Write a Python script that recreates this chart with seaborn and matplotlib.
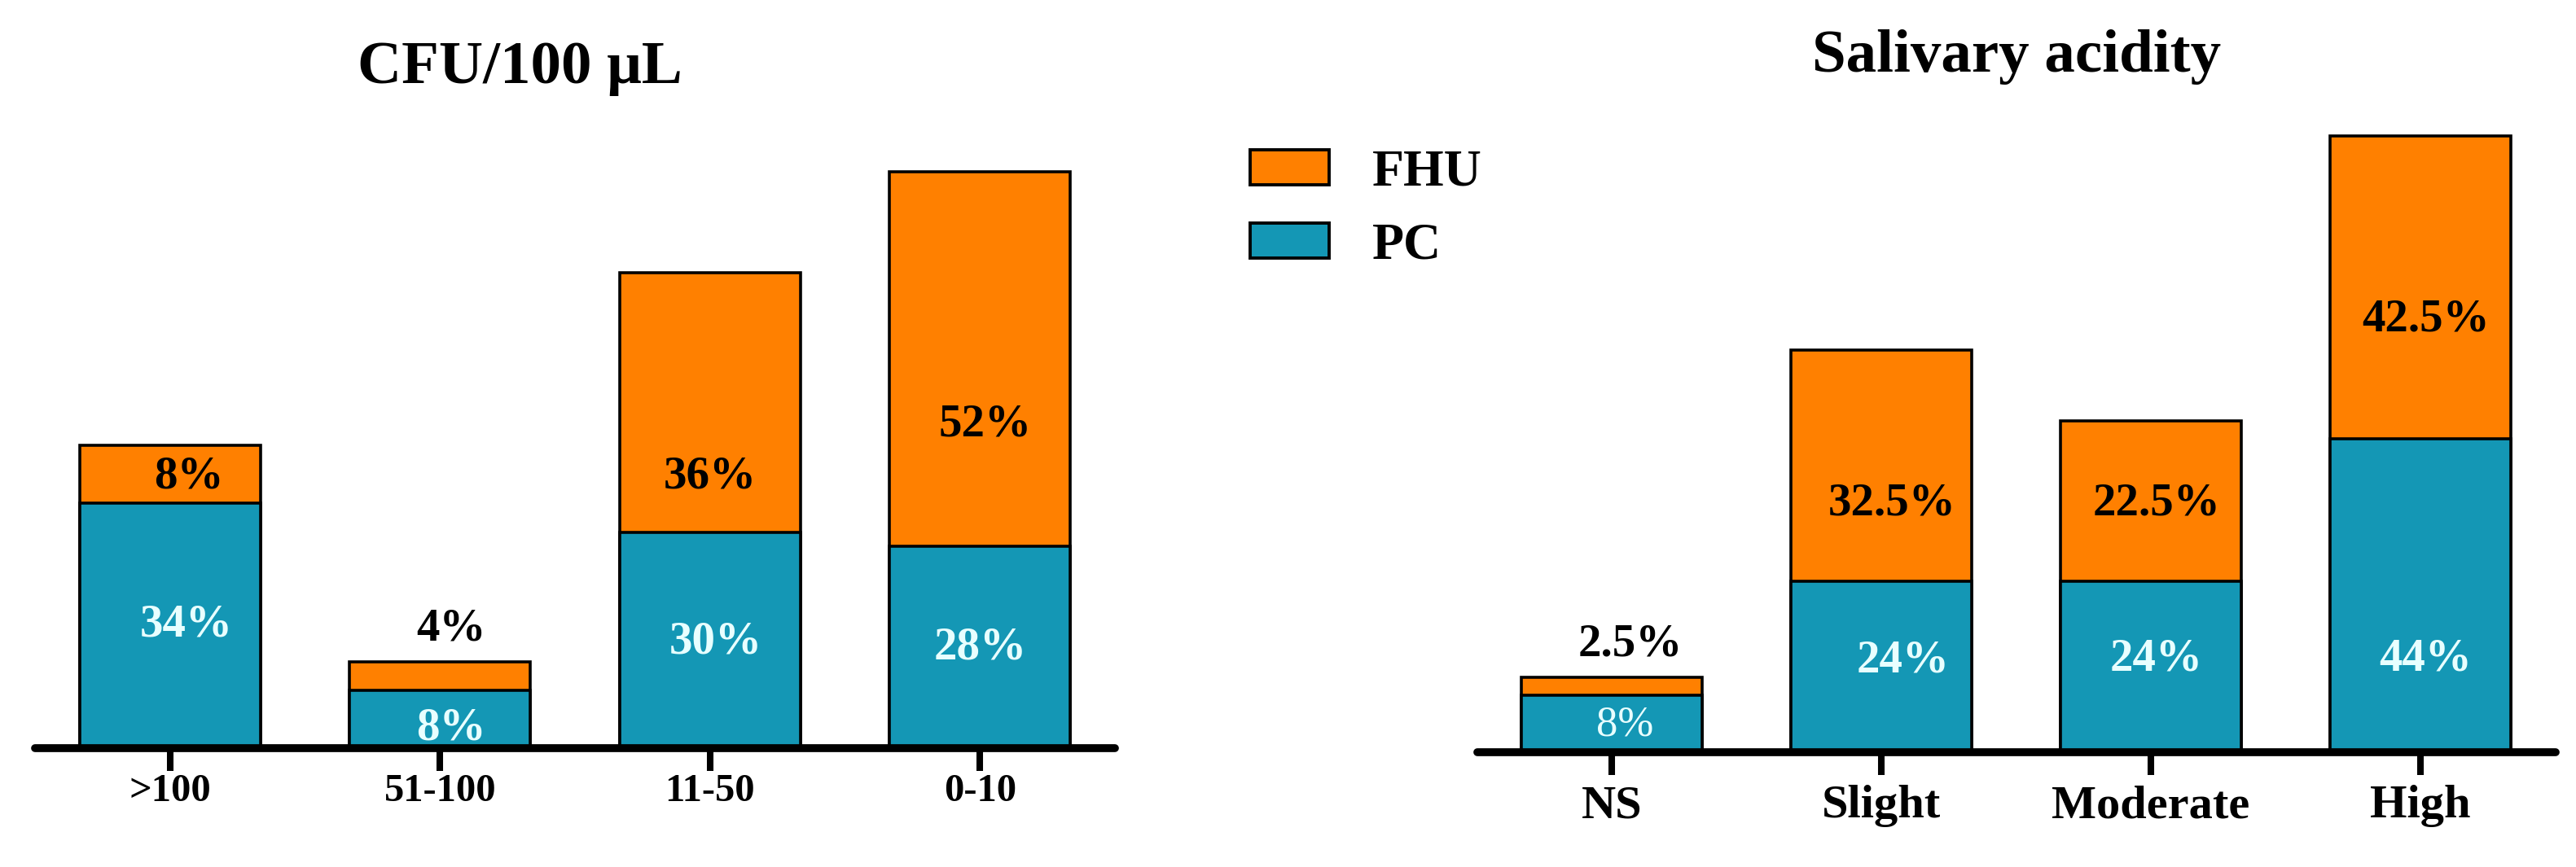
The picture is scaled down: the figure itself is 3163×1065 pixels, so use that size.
import matplotlib
matplotlib.use("Agg")
import matplotlib.pyplot as plt
import seaborn as sns
import pandas as pd
from matplotlib.patches import Patch

# ---------------- data ----------------
cfu_categories = [">100", "51-100", "11-50", "0-10"]
cfu_pc = [34, 8, 30, 28]
cfu_fhu = [8, 4, 36, 52]
cfu_pc_labels = ["34%", "8%", "30%", "28%"]
cfu_fhu_labels = ["8%", "4%", "36%", "52%"]

acid_categories = ["NS", "Slight", "Moderate", "High"]
acid_pc = [8, 24, 24, 44]
acid_fhu = [2.5, 32.5, 22.5, 42.5]
acid_pc_labels = ["8%", "24%", "24%", "44%"]
acid_fhu_labels = ["2.5%", "32.5%", "22.5%", "42.5%"]

series_names = ["FHU", "PC"]
panel_titles = ["CFU/100 \u03bcL", "Salivary acidity"]

# ---------------- style / layout ----------------
ORANGE = "#FF8000"
TEAL = "#1497B5"
LIGHT = "#E8FFFF"
FONT = "Liberation Serif"

# (x offset in category units, y in data units) for each value label
cfu_pc_label_pos = [(0.06, 17.1), (0.04, 2.8), (0.02, 14.7), (0.0, 14.0)]
cfu_fhu_label_pos = [(0.07, 37.7), (0.04, 16.6), (0.0, 37.7), (0.02, 44.9)]
acid_pc_label_pos = [(0.05, 3.8), (0.08, 12.8), (0.02, 13.1), (0.02, 13.1)]
acid_fhu_label_pos = [(0.07, 15.1), (0.04, 34.9), (0.02, 34.9), (0.02, 60.7)]

sns.set_theme(style="white")
plt.rcParams["font.family"] = [FONT, "DejaVu Serif"]
plt.rcParams["font.weight"] = "bold"
plt.rcParams["text.color"] = "black"
plt.rcParams["axes.labelcolor"] = "black"
plt.rcParams["xtick.color"] = "black"
plt.rcParams["xtick.labelcolor"] = "black"
plt.rcParams["legend.labelcolor"] = "black"

W, H = 3163, 1065
fig = plt.figure(figsize=(W / 100, H / 100), dpi=100)

ax1 = fig.add_axes([43 / W, (H - 919) / H, 1326 / W, 796.5 / H])
ax2 = fig.add_axes([1813.5 / W, (H - 924) / H, 1324 / W, 787.5 / H])


def draw_panel(ax, cats, pc, fhu, pc_labels, fhu_labels, pc_pos, fhu_pos,
               tick_size, tick_pad, pc_weights):
    df = pd.DataFrame({"cat": cats, "PC": pc, "FHU": fhu})
    df["total"] = df["PC"] + df["FHU"]
    sns.barplot(data=df, x="cat", y="total", order=cats, color=ORANGE,
                saturation=1, width=0.67, edgecolor="black", linewidth=2.6,
                errorbar=None, ax=ax)
    sns.barplot(data=df, x="cat", y="PC", order=cats, color=TEAL,
                saturation=1, width=0.67, edgecolor="black", linewidth=2.6,
                errorbar=None, ax=ax)
    ax.set_xlim(-0.5, 3.5)
    ax.set_ylim(0, 90)
    ax.set_xlabel("")
    ax.set_ylabel("")
    ax.set_yticks([])
    for s in ["left", "right", "top"]:
        ax.spines[s].set_visible(False)
    sp = ax.spines["bottom"]
    sp.set_linewidth(7)
    sp.set_color("black")
    sp.set_capstyle("round")
    sp.set_zorder(5)
    ax.tick_params(axis="x", length=20, width=5.8, direction="out",
                   color="black", pad=tick_pad, bottom=True)
    for lab in ax.get_xticklabels():
        lab.set_fontsize(tick_size)
        lab.set_fontweight("bold")
        lab.set_fontfamily(FONT)
        lab.set_color("black")
    for i in range(len(cats)):
        dx, y = pc_pos[i]
        ax.text(i + dx, y, pc_labels[i], ha="center", va="center",
                fontsize=41 if pc_weights[i] == "bold" else 38,
                fontweight=pc_weights[i], color=LIGHT, family=FONT, zorder=6)
        dx, y = fhu_pos[i]
        ax.text(i + dx, y, fhu_labels[i], ha="center", va="center",
                fontsize=41, fontweight="bold", color="black",
                family=FONT, zorder=6)
    ax.patch.set_alpha(0)


draw_panel(ax1, cfu_categories, cfu_pc, cfu_fhu, cfu_pc_labels,
           cfu_fhu_labels, cfu_pc_label_pos, cfu_fhu_label_pos, 35, 2,
           ["bold"] * 4)
draw_panel(ax2, acid_categories, acid_pc, acid_fhu, acid_pc_labels,
           acid_fhu_labels, acid_pc_label_pos, acid_fhu_label_pos, 42, 9,
           ["normal", "bold", "bold", "bold"])

# titles
fig.text(638 / W, (H - 102) / H, panel_titles[0], ha="center", va="baseline",
         fontsize=54, fontweight="bold", family=FONT, color="black")
fig.text(2476 / W, (H - 88) / H, panel_titles[1], ha="center", va="baseline",
         fontsize=54, fontweight="bold", family=FONT, color="black")

# legend
handles = [Patch(facecolor=ORANGE, edgecolor="black", linewidth=2.8),
           Patch(facecolor=TEAL, edgecolor="black", linewidth=2.8)]
leg = fig.legend(handles, series_names, loc="upper left",
                 bbox_to_anchor=(1535 / W, (H - 184) / H),
                 bbox_transform=fig.transFigure, frameon=False,
                 prop={"family": FONT, "weight": "bold", "size": 46},
                 handlelength=1.52, handleheight=0.64, handletextpad=0.83,
                 labelspacing=0.5, borderpad=0, borderaxespad=0)
for t in leg.get_texts():
    t.set_color("black")

fig.savefig("out.png", dpi=100, facecolor="white")
